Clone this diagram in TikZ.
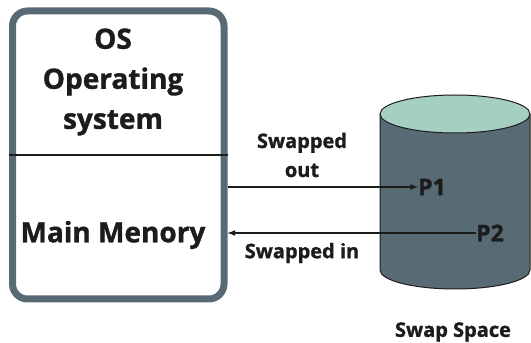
\documentclass[tikz,border=0pt]{standalone}
\usepackage{fontspec}
\setmainfont{Open Sans}[BoldFeatures={FakeBold=1.2}]
\usetikzlibrary{positioning}

\definecolor{slate}{HTML}{586B75}
\definecolor{lid}{HTML}{A6CFC3}
\definecolor{ink}{HTML}{1C1C1C}

\tikzset{
  label text/.style={font=\bfseries\fontsize{20}{29}\selectfont, text=ink, align=center, inner sep=0pt},
  big text/.style={font=\bfseries\fontsize{28}{40}\selectfont, text=ink, align=center, inner sep=0pt},
  swap/.style={draw=ink, line width=1.6pt, -latex},
}

\begin{document}
\begin{tikzpicture}[x=1pt, y=1pt]
  \useasboundingbox (0,0) rectangle (531,343);
  % main memory box
  \node[draw=slate, line width=7pt, rounded corners=15pt,
        minimum width=211.5pt, minimum height=288pt, inner sep=0pt] (mem) at (118.25,188) {};
  \draw[ink, line width=1.4pt] (mem.west) -- (mem.east);
  \node[big text] (os) at (113,261) {OS\\Operating\\system};
  \node[big text] (mm) at (113,108) {Main Menory};

  % swap space disk
  \fill[slate] (380,229) -- (380,73) arc[start angle=180, end angle=360, x radius=75, y radius=19]
    -- (530,229) -- cycle;
  \draw[ink, line width=1pt] (380,229) -- (380,73) arc[start angle=180, end angle=360, x radius=75, y radius=19]
    -- (530,229);
  \filldraw[fill=lid, draw=ink, line width=1pt] (455,229) ellipse[x radius=75, y radius=19];
  \node[label text, font=\bfseries\fontsize{23}{26}\selectfont, anchor=west] (p1) at (418,156) {P1};
  \node[label text, font=\bfseries\fontsize{23}{26}\selectfont, anchor=west] (p2) at (476,110) {P2};
  \node[label text] (space) at (453,11) {Swap Space};

  % swapping
  \node[label text] (out) at (302,188) {Swapped\\out};
  \node[label text] (in) at (302,90) {Swapped in};
  \draw[swap] (mem.east |- p1) -- (p1.west);
  \draw[swap] (p2.west) -- (mem.east |- p2);
\end{tikzpicture}
\end{document}
